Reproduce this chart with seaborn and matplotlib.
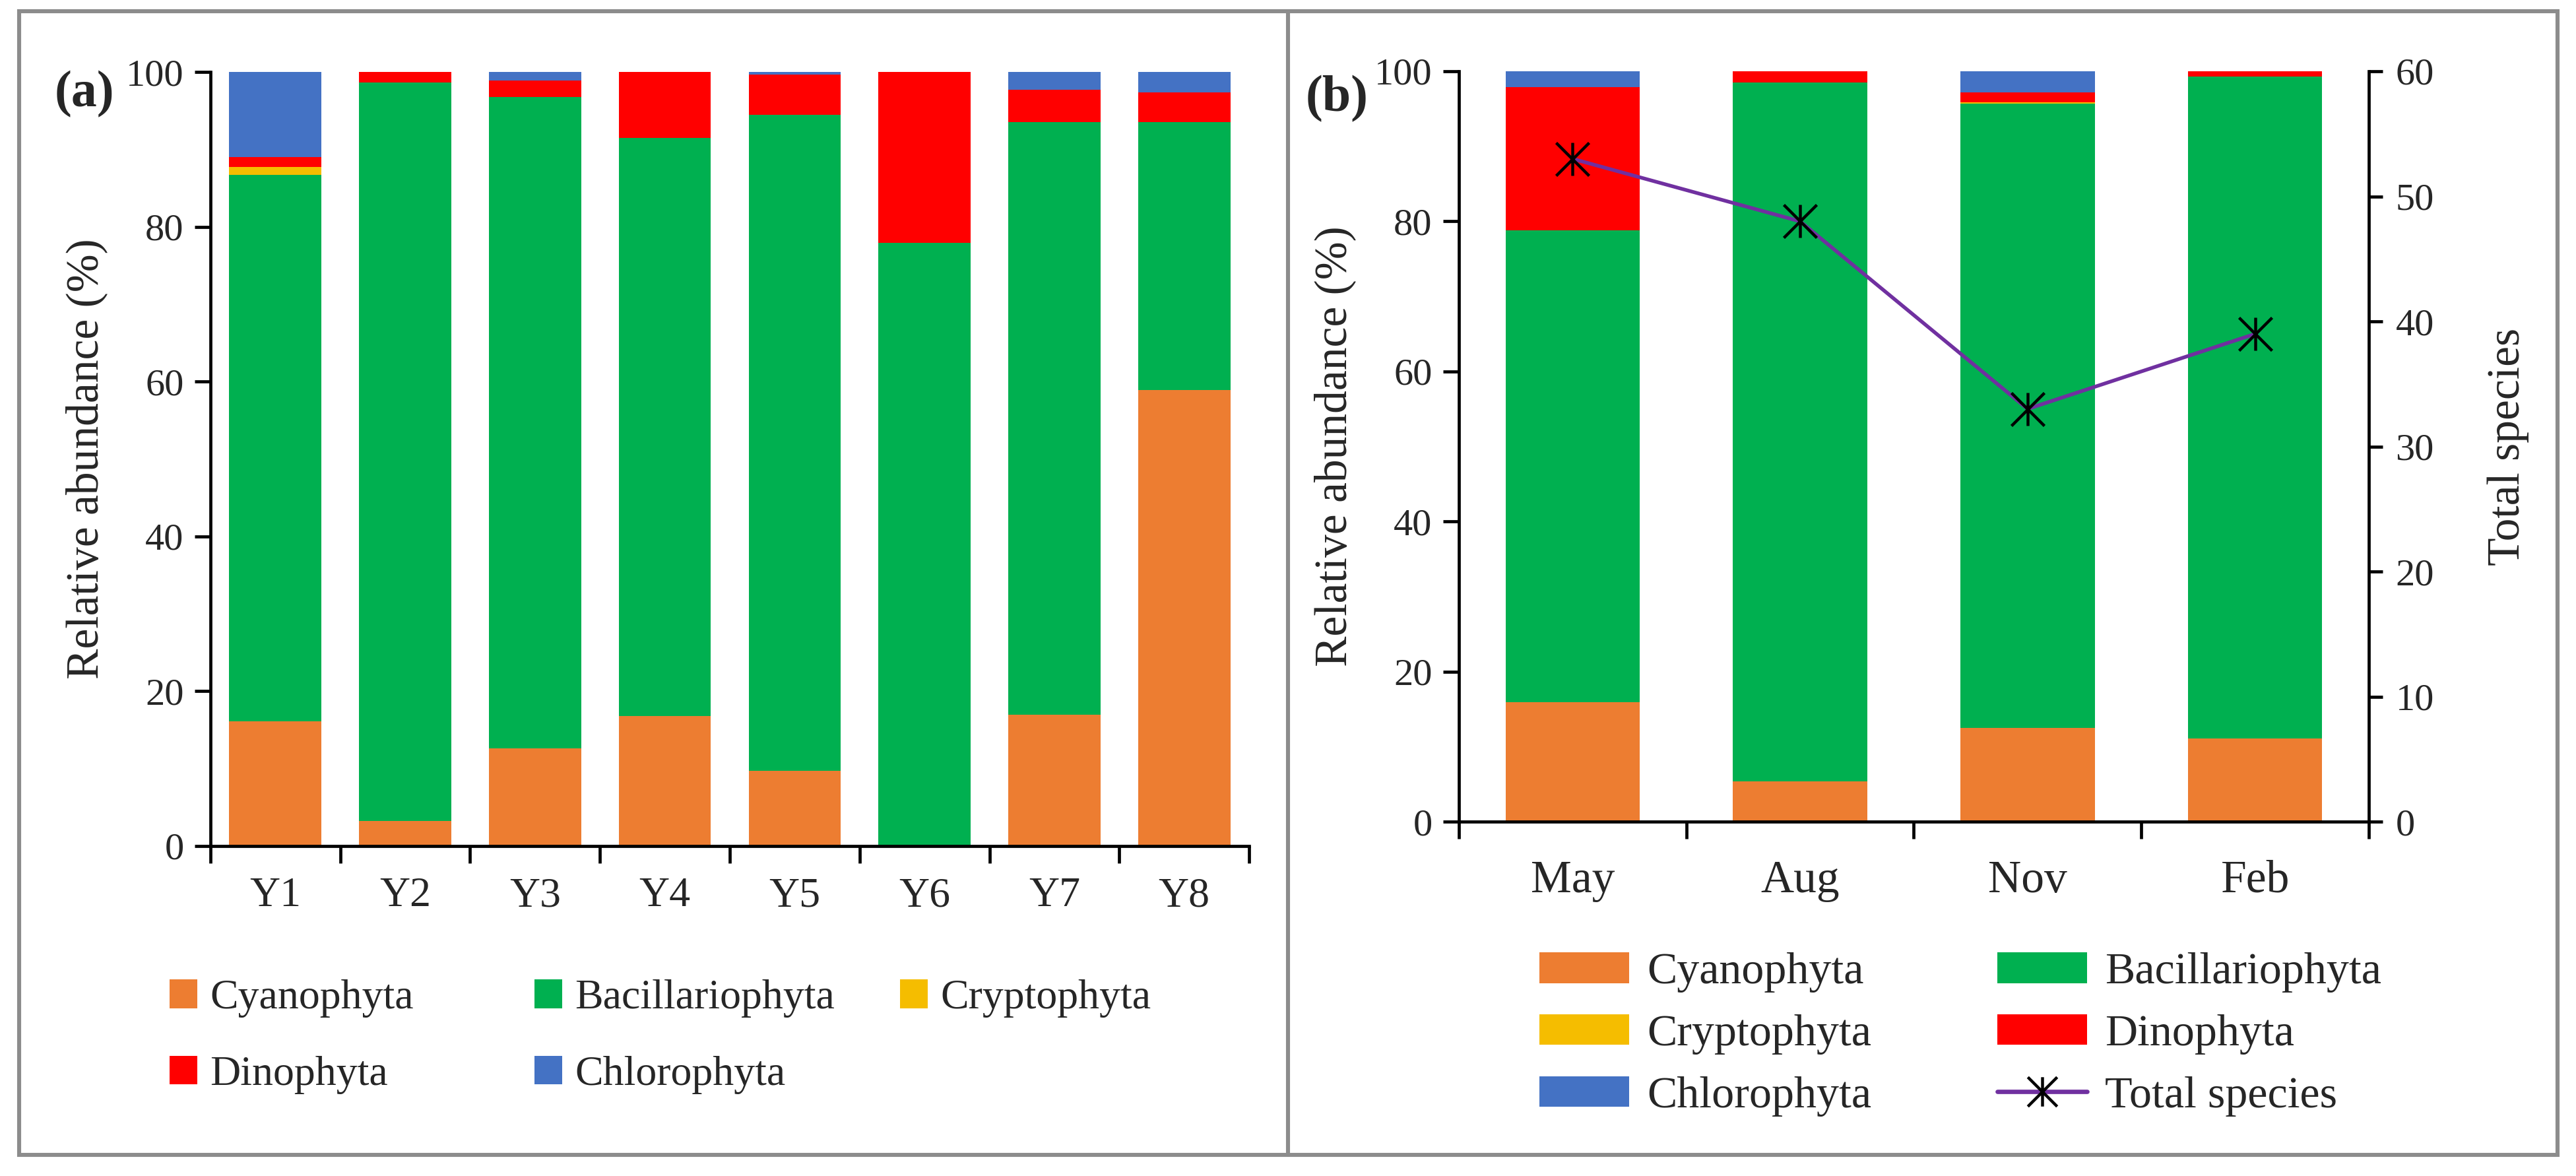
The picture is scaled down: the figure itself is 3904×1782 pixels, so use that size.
import numpy as np
import pandas as pd
import matplotlib
matplotlib.use("Agg")
import matplotlib.pyplot as plt
from matplotlib.patches import Patch, Rectangle
from matplotlib.lines import Line2D
from matplotlib.path import Path
import seaborn as sns

# --- dados ---
sites = ["Y1", "Y2", "Y3", "Y4", "Y5", "Y6", "Y7", "Y8"]
a_cyano = [16.1, 3.2, 12.6, 16.8, 9.7, 0.0, 17.0, 58.9]
a_bacil = [70.6, 95.4, 84.2, 74.7, 84.8, 77.9, 76.5, 34.6]
a_crypto = [1.0, 0.0, 0.0, 0.0, 0.0, 0.0, 0.0, 0.0]
a_dino = [1.3, 1.4, 2.1, 8.5, 5.2, 22.1, 4.2, 3.9]
a_chloro = [11.0, 0.0, 1.1, 0.0, 0.3, 0.0, 2.3, 2.6]

months = ["May", "Aug", "Nov", "Feb"]
b_cyano = [15.9, 5.4, 12.5, 11.1]
b_bacil = [62.9, 93.1, 83.2, 88.2]
b_crypto = [0.0, 0.0, 0.2, 0.0]
b_dino = [19.1, 1.5, 1.3, 0.7]
b_chloro = [2.1, 0.0, 2.8, 0.0]
species = [53, 48, 33, 39]

groups = ["Cyanophyta", "Bacillariophyta", "Cryptophyta", "Dinophyta", "Chlorophyta"]
cores = {
    "Cyanophyta": "#ED7D31",
    "Bacillariophyta": "#00B050",
    "Cryptophyta": "#F5BD00",
    "Dinophyta": "#FF0000",
    "Chlorophyta": "#4472C4",
}
cor_linha = "#7030A0"

sns.set_theme(style="ticks")
plt.rcParams["font.family"] = ["Liberation Serif", "DejaVu Serif"]
plt.rcParams["axes.linewidth"] = 1.7

fig = plt.figure(figsize=(19.52, 8.91), dpi=200)
ax_a = fig.add_axes([0.0817, 0.2806, 0.4032, 0.6582])
ax_b = fig.add_axes([0.5663, 0.3013, 0.3533, 0.6381])


def empilhar(ax, cats, series, largura):
    df = pd.DataFrame(dict(zip(groups, series)), index=cats)
    cum = df.cumsum(axis=1)
    # desenha do topo para a base, cada camada cobre a anterior
    for g in reversed(groups):
        sns.barplot(x=list(cats), y=cum[g].values, color=cores[g], width=largura,
                    saturation=1, linewidth=0, errorbar=None, ax=ax)
    n = len(cats)
    ax.set_xlim(-0.5, n - 0.5)
    ax.set_ylim(0, 100)
    ax.set_yticks(range(0, 101, 20))
    ax.set_xticks(np.arange(n))
    ax.set_xticklabels(cats)
    ax.set_xticks(np.arange(-0.5, n), minor=True)
    ax.tick_params(axis="x", which="major", length=0, pad=17)
    ax.tick_params(axis="x", which="minor", length=9.5, width=1.7, direction="out", color="black")
    ax.tick_params(axis="y", length=8.5, width=1.7, direction="out", pad=6, labelsize=21, color="black")
    ax.set_ylabel("Relative abundance (%)", fontsize=25, labelpad=10)
    ax.set_xlabel("")
    for s in ["top", "right"]:
        ax.spines[s].set_visible(False)
    for s in ["left", "bottom"]:
        ax.spines[s].set_color("black")


empilhar(ax_a, sites, [a_cyano, a_bacil, a_crypto, a_dino, a_chloro], 0.71)
ax_a.tick_params(axis="x", which="major", labelsize=23)

empilhar(ax_b, months, [b_cyano, b_bacil, b_crypto, b_dino, b_chloro], 0.59)
ax_b.tick_params(axis="x", which="major", labelsize=25, pad=21)

# eixo secundario com total de especies
asterisco = Path([(-1, -1), (1, 1), (-1, 1), (1, -1), (0, -1), (0, 1)],
                 [Path.MOVETO, Path.LINETO] * 3)
ax_b2 = ax_b.twinx()
sns.lineplot(x=np.arange(len(months)), y=species, color=cor_linha, linewidth=2.0,
             marker=asterisco, markersize=18, markeredgecolor="black",
             markerfacecolor="none", markeredgewidth=1.6, ax=ax_b2)
ax_b2.set_ylim(0, 60)
ax_b2.set_yticks(range(0, 61, 10))
ax_b2.set_xlim(-0.5, len(months) - 0.5)
ax_b2.tick_params(axis="y", length=7.5, width=1.7, direction="out", pad=7, labelsize=21, color="black")
ax_b2.set_ylabel("Total species", fontsize=25, labelpad=29)
ax_b2.spines["top"].set_visible(False)
ax_b2.spines["left"].set_visible(False)
ax_b2.spines["bottom"].set_visible(False)
ax_b2.spines["right"].set_color("black")
ax_b2.spines["right"].set_linewidth(1.7)
ax_b.spines["right"].set_visible(False)

# legendas (uma por coluna para manter o espacamento fixo da figura original)
h = {g: Patch(facecolor=cores[g], edgecolor="none") for g in groups}
linha = Line2D([], [], color=cor_linha, linewidth=2.4, marker=asterisco, markersize=16,
               markeredgecolor="black", markerfacecolor="none", markeredgewidth=1.6)

colunas_a = [(0.0658, ["Cyanophyta", "Dinophyta"]),
             (0.2075, ["Bacillariophyta", "Chlorophyta"]),
             (0.3494, ["Cryptophyta"])]
for x0, nomes in colunas_a:
    leg = fig.legend([h[g] for g in nomes], nomes, loc="upper left", bbox_to_anchor=(x0, 0.167),
                     frameon=False, fontsize=23, handlelength=0.66, handleheight=0.66,
                     handletextpad=0.3, labelspacing=0.9, borderpad=0, borderaxespad=0)

colunas_b = [(0.5976, [("Cyanophyta", h["Cyanophyta"]), ("Cryptophyta", h["Cryptophyta"]),
                       ("Chlorophyta", h["Chlorophyta"])]),
             (0.7754, [("Bacillariophyta", h["Bacillariophyta"]), ("Dinophyta", h["Dinophyta"]),
                       ("Total species", linha)])]
for x0, itens in colunas_b:
    fig.legend([i[1] for i in itens], [i[0] for i in itens], loc="upper left",
               bbox_to_anchor=(x0, 0.190), frameon=False, fontsize=24.5,
               handlelength=2.0, handleheight=0.67, handletextpad=0.4,
               labelspacing=0.48, borderpad=0, borderaxespad=0)

# rotulos dos paineis
fig.text(0.0328, 0.9198, "(a)", fontsize=28, fontweight="bold", ha="center", va="center")
fig.text(0.519, 0.916, "(b)", fontsize=28, fontweight="bold", ha="center", va="center")

# moldura cinza em volta dos dois paineis
fig.add_artist(Rectangle((0.0074, 0.018), 0.9854, 0.9725, transform=fig.transFigure,
                         fill=False, edgecolor="#8c8c8c", linewidth=2.2))
fig.add_artist(Line2D([0.5, 0.5], [0.018, 0.9905], transform=fig.transFigure,
                      color="#8c8c8c", linewidth=2.2))

fig.savefig("out.png", dpi=200, facecolor="white")
